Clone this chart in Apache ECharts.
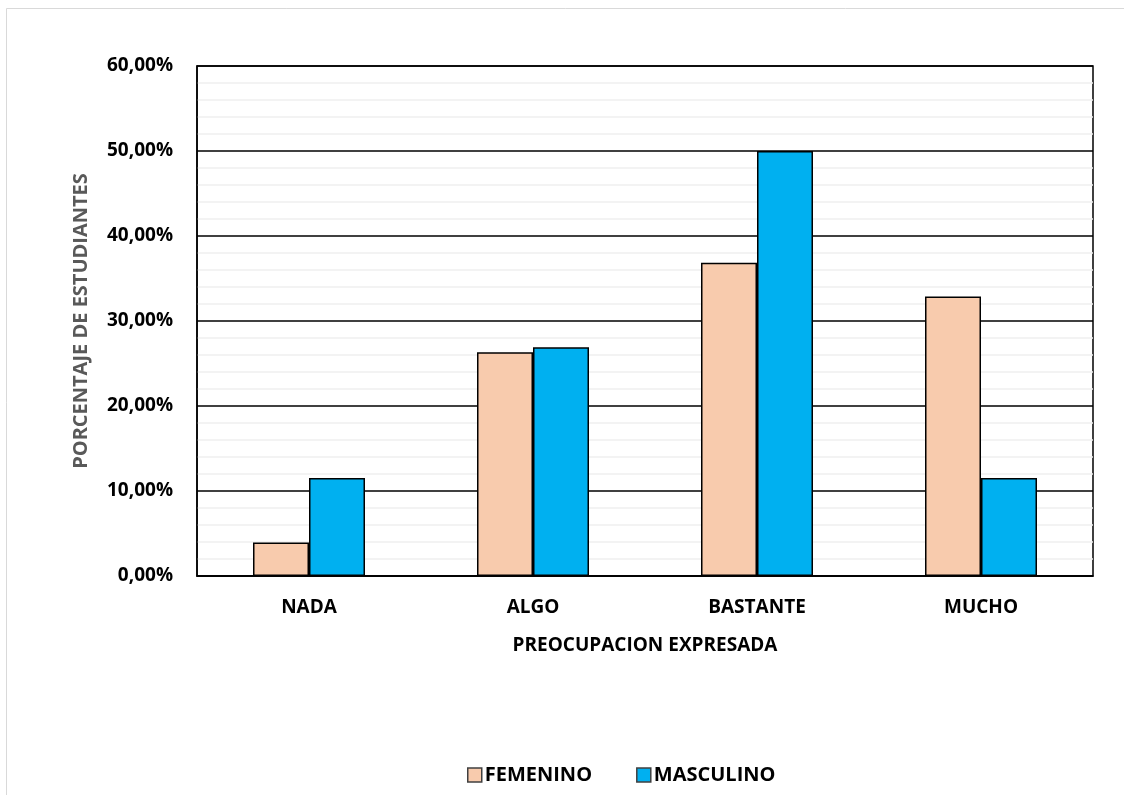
<!DOCTYPE html>
<html>
<head>
<meta charset="utf-8">
<script src="https://cdn.jsdelivr.net/npm/echarts@6/dist/echarts.min.js"></script>
<style>
  html, body { margin: 0; padding: 0; background: #ffffff; }
  #chart { width: 1124px; height: 795px; }
</style>
</head>
<body>
<div id="chart"></div>
<script>
// Categorías de preocupación y porcentajes por sexo
const categorias = ['NADA', 'ALGO', 'BASTANTE', 'MUCHO'];
const femenino = [3.95, 26.32, 36.84, 32.89];
const masculino = [11.54, 26.92, 50.0, 11.54];
const ejeY = { min: 0, max: 60, interval: 10 };

const fuente = '"Open Sans", "Noto Sans", sans-serif';
const chart = echarts.init(document.getElementById('chart'));

const fmt = v => v.toFixed(2).replace('.', ',') + '%';

chart.setOption({
  backgroundColor: '#ffffff',
  animation: false,
  graphic: [{
    type: 'rect',
    shape: { x: 6.5, y: 8.5, width: 1200, height: 900 },
    style: { fill: 'none', stroke: '#d9d9d9', lineWidth: 1 },
    silent: true,
    z: -1
  }],
  grid: {
    left: 197, top: 66, width: 896, height: 510,
    show: true, borderColor: '#000000', borderWidth: 1.5,
    backgroundColor: 'transparent'
  },
  legend: {
    left: 462, top: 760,
    itemWidth: 14, itemHeight: 14, itemGap: 44,
    icon: 'rect',
    textStyle: { fontFamily: fuente, fontWeight: 'bold', fontSize: 20, color: '#000', padding: [0, 0, 0, -2] },
    data: [
      { name: 'FEMENINO', itemStyle: { borderColor: '#404040', borderWidth: 1.5 } },
      { name: 'MASCULINO', itemStyle: { borderColor: '#404040', borderWidth: 1.5 } }
    ]
  },
  xAxis: {
    type: 'category',
    data: categorias,
    name: 'PREOCUPACION EXPRESADA',
    nameLocation: 'middle',
    nameGap: 60,
    nameTextStyle: { fontFamily: fuente, fontWeight: 'bold', fontSize: 19, color: '#000' },
    axisLine: { show: true, lineStyle: { color: '#000', width: 1.5 } },
    axisTick: { show: false },
    axisLabel: { fontFamily: fuente, fontWeight: 'bold', fontSize: 19, color: '#000', margin: 22 },
    splitLine: { show: false }
  },
  yAxis: {
    type: 'value',
    min: ejeY.min, max: ejeY.max, interval: ejeY.interval,
    name: 'PORCENTAJE DE ESTUDIANTES',
    nameLocation: 'middle',
    nameGap: 106,
    nameRotate: 90,
    nameTextStyle: { fontFamily: fuente, fontWeight: 'bold', fontSize: 20, color: '#595959' },
    axisLine: { show: true, lineStyle: { color: '#000', width: 1.5 } },
    axisTick: { show: false },
    axisLabel: { fontFamily: fuente, fontWeight: 'bold', fontSize: 19, color: '#000', margin: 24, formatter: fmt },
    splitLine: { show: true, lineStyle: { color: '#000', width: 1.5 } },
    minorTick: { show: false, splitNumber: 5 },
    minorSplitLine: { show: true, lineStyle: { color: '#f0f0f0', width: 1.5 } }
  },
  series: [
    {
      name: 'FEMENINO', type: 'bar', data: femenino,
      barGap: '0%', barCategoryGap: '50%',
      itemStyle: { color: '#f8cbad', borderColor: '#000', borderWidth: 1.5 }
    },
    {
      name: 'MASCULINO', type: 'bar', data: masculino,
      barGap: '0%', barCategoryGap: '50%',
      itemStyle: { color: '#00b0f0', borderColor: '#000', borderWidth: 1.5 }
    }
  ]
});
</script>
</body>
</html>
